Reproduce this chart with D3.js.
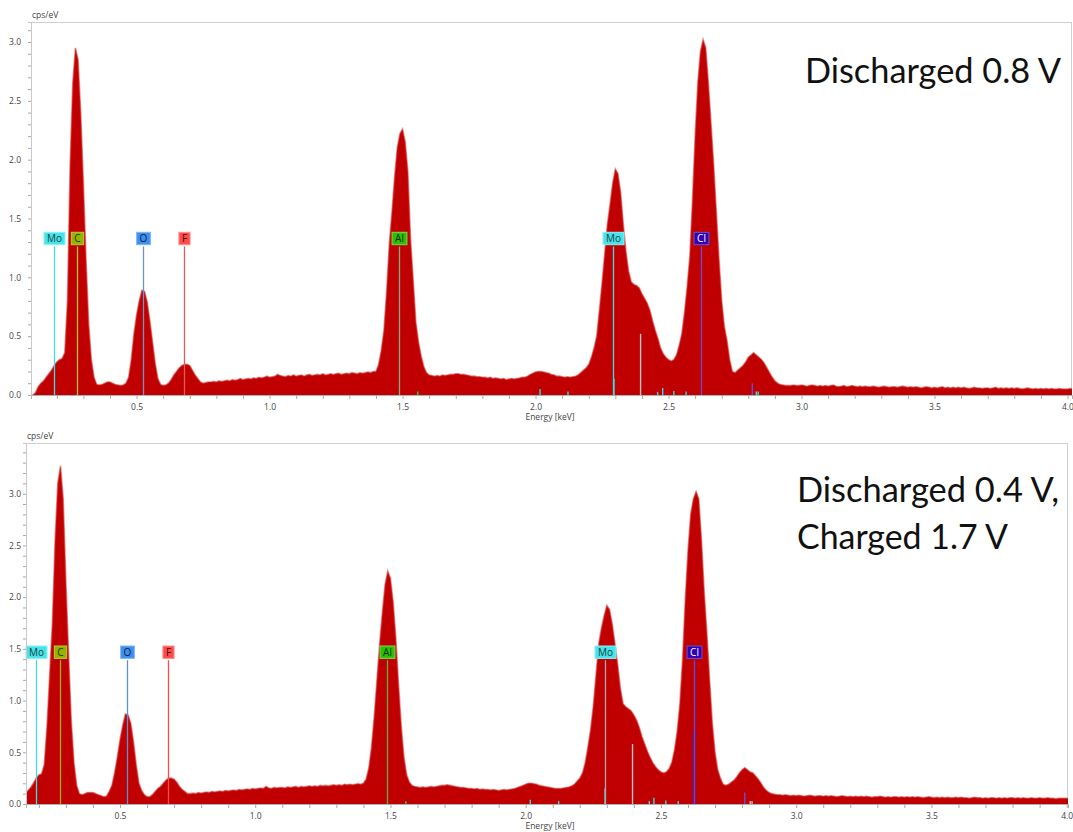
<!DOCTYPE html>
<html>
<head>
<meta charset="utf-8">
<script src="https://cdn.jsdelivr.net/npm/d3@7"></script>
<style>
  html, body { margin: 0; padding: 0; background: #ffffff; }
  svg { display: block; }
</style>
</head>
<body>
<script>
// ---------------- DATA ----------------
// Spectrum bins: 0.10 keV .. 4.02 keV, 0.01 keV per channel
const energyStartKeV = 0.10;
const channelWidthKeV = 0.01;

// Panel 1: Discharged 0.8 V (cps/eV)
const countsTop = [
  0, 0, 0.02, 0.07, 0.10, 0.12, 0.15, 0.18, 0.21, 0.25,
  0.28, 0.30, 0.31, 0.36, 0.80, 1.95, 2.65, 2.95, 2.85, 2.40,
  1.80, 1.15, 0.60, 0.30, 0.15, 0.09, 0.085, 0.09, 0.10, 0.11,
  0.11, 0.10, 0.09, 0.085, 0.08, 0.085, 0.10, 0.15, 0.30, 0.52,
  0.68, 0.80, 0.89, 0.88, 0.79, 0.63, 0.45, 0.27, 0.14, 0.09,
  0.08, 0.085, 0.10, 0.13, 0.17, 0.20, 0.23, 0.25, 0.26, 0.26,
  0.25, 0.21, 0.17, 0.14, 0.11, 0.10, 0.105, 0.11, 0.11, 0.115,
  0.11, 0.12, 0.115, 0.12, 0.125, 0.12, 0.13, 0.125, 0.13, 0.14,
  0.13, 0.135, 0.14, 0.135, 0.145, 0.14, 0.15, 0.145, 0.15, 0.16,
  0.15, 0.155, 0.16, 0.175, 0.165, 0.16, 0.155, 0.165, 0.16, 0.17,
  0.16, 0.165, 0.17, 0.16, 0.17, 0.175, 0.165, 0.17, 0.175, 0.17,
  0.18, 0.17, 0.175, 0.18, 0.175, 0.18, 0.185, 0.175, 0.18, 0.185,
  0.18, 0.19, 0.185, 0.18, 0.19, 0.185, 0.19, 0.195, 0.19, 0.20,
  0.20, 0.26, 0.38, 0.55, 0.88, 1.28, 1.55, 1.85, 2.10, 2.22,
  2.26, 2.15, 1.90, 1.33, 0.98, 0.62, 0.45, 0.33, 0.24, 0.19,
  0.17, 0.165, 0.16, 0.165, 0.16, 0.17, 0.165, 0.17, 0.175, 0.175,
  0.18, 0.18, 0.175, 0.175, 0.17, 0.165, 0.16, 0.16, 0.155, 0.155,
  0.15, 0.15, 0.145, 0.15, 0.14, 0.145, 0.14, 0.135, 0.14, 0.13,
  0.135, 0.14, 0.135, 0.14, 0.145, 0.15, 0.15, 0.16, 0.175, 0.185,
  0.195, 0.20, 0.20, 0.195, 0.19, 0.185, 0.175, 0.17, 0.16, 0.16,
  0.155, 0.15, 0.155, 0.15, 0.155, 0.16, 0.17, 0.19, 0.21, 0.23,
  0.26, 0.32, 0.40, 0.50, 0.72, 0.95, 1.20, 1.45, 1.62, 1.80,
  1.92, 1.88, 1.72, 1.45, 1.22, 1.05, 0.96, 0.94, 0.93, 0.91,
  0.86, 0.82, 0.78, 0.72, 0.63, 0.55, 0.48, 0.40, 0.35, 0.32,
  0.30, 0.29, 0.30, 0.34, 0.42, 0.52, 0.70, 0.92, 1.18, 1.65,
  2.20, 2.65, 2.92, 3.02, 2.95, 2.65, 2.30, 1.95, 1.55, 1.15,
  0.80, 0.58, 0.46, 0.30, 0.20, 0.19, 0.21, 0.23, 0.25, 0.28,
  0.32, 0.34, 0.36, 0.34, 0.32, 0.30, 0.27, 0.23, 0.19, 0.15,
  0.12, 0.10, 0.09, 0.085, 0.08, 0.08, 0.08, 0.085, 0.08, 0.08,
  0.085, 0.08, 0.075, 0.08, 0.085, 0.08, 0.075, 0.08, 0.075, 0.08,
  0.075, 0.08, 0.085, 0.075, 0.07, 0.075, 0.08, 0.07, 0.075, 0.08,
  0.075, 0.07, 0.075, 0.07, 0.075, 0.07, 0.07, 0.075, 0.07, 0.065,
  0.07, 0.075, 0.07, 0.065, 0.07, 0.07, 0.065, 0.07, 0.075, 0.07,
  0.065, 0.07, 0.065, 0.07, 0.065, 0.06, 0.065, 0.07, 0.065, 0.06,
  0.065, 0.06, 0.065, 0.07, 0.06, 0.065, 0.06, 0.065, 0.06, 0.065,
  0.06, 0.065, 0.06, 0.055, 0.06, 0.065, 0.06, 0.06, 0.055, 0.06,
  0.06, 0.055, 0.06, 0.065, 0.055, 0.06, 0.055, 0.06, 0.055, 0.06,
  0.055, 0.06, 0.055, 0.05, 0.055, 0.06, 0.055, 0.05, 0.055, 0.05,
  0.055, 0.05, 0.055, 0.05, 0.055, 0.05, 0.05, 0.055, 0.05, 0.05,
  0.05, 0.055, 0.05
];

// Panel 2: Discharged 0.4 V, Charged 1.7 V (cps/eV)
const countsBottom = [
  0.05, 0.06, 0.07, 0.08, 0.09, 0.10, 0.13, 0.16, 0.20, 0.25,
  0.28, 0.29, 0.38, 0.75, 1.25, 1.75, 2.55, 3.10, 3.27, 2.95,
  2.15, 1.45, 0.80, 0.40, 0.18, 0.10, 0.09, 0.10, 0.11, 0.11,
  0.11, 0.10, 0.09, 0.08, 0.07, 0.075, 0.12, 0.18, 0.30, 0.45,
  0.62, 0.76, 0.87, 0.86, 0.78, 0.60, 0.38, 0.20, 0.13, 0.09,
  0.07, 0.07, 0.09, 0.12, 0.15, 0.17, 0.20, 0.23, 0.25, 0.25,
  0.24, 0.21, 0.17, 0.14, 0.12, 0.10, 0.10, 0.105, 0.10, 0.11,
  0.105, 0.11, 0.115, 0.11, 0.12, 0.115, 0.12, 0.125, 0.12, 0.13,
  0.125, 0.13, 0.135, 0.13, 0.14, 0.135, 0.14, 0.145, 0.14, 0.15,
  0.145, 0.15, 0.155, 0.15, 0.17, 0.155, 0.15, 0.16, 0.155, 0.16,
  0.16, 0.155, 0.165, 0.16, 0.165, 0.17, 0.16, 0.17, 0.165, 0.17,
  0.175, 0.17, 0.175, 0.17, 0.18, 0.175, 0.18, 0.175, 0.18, 0.185,
  0.18, 0.185, 0.18, 0.19, 0.185, 0.19, 0.185, 0.19, 0.195, 0.19,
  0.20, 0.24, 0.35, 0.55, 0.85, 1.20, 1.55, 1.85, 2.12, 2.25,
  2.18, 1.95, 1.60, 1.15, 0.75, 0.45, 0.28, 0.21, 0.18, 0.17,
  0.165, 0.16, 0.165, 0.16, 0.165, 0.17, 0.165, 0.17, 0.175, 0.18,
  0.18, 0.185, 0.18, 0.175, 0.17, 0.165, 0.16, 0.16, 0.155, 0.15,
  0.15, 0.145, 0.15, 0.14, 0.145, 0.14, 0.14, 0.135, 0.14, 0.135,
  0.13, 0.135, 0.14, 0.135, 0.14, 0.145, 0.15, 0.16, 0.17, 0.18,
  0.19, 0.20, 0.20, 0.195, 0.19, 0.18, 0.175, 0.17, 0.165, 0.16,
  0.155, 0.15, 0.15, 0.15, 0.155, 0.16, 0.165, 0.175, 0.19, 0.22,
  0.25, 0.30, 0.40, 0.55, 0.72, 0.95, 1.25, 1.55, 1.70, 1.82,
  1.92, 1.88, 1.74, 1.55, 1.35, 1.12, 0.97, 0.94, 0.92, 0.90,
  0.86, 0.81, 0.74, 0.65, 0.58, 0.51, 0.45, 0.40, 0.36, 0.33,
  0.31, 0.30, 0.31, 0.34, 0.40, 0.52, 0.70, 0.97, 1.40, 1.98,
  2.45, 2.80, 2.95, 3.02, 2.95, 2.55, 2.05, 1.65, 1.20, 0.78,
  0.50, 0.33, 0.25, 0.19, 0.18, 0.19, 0.21, 0.23, 0.26, 0.30,
  0.33, 0.35, 0.33, 0.31, 0.30, 0.27, 0.24, 0.20, 0.16, 0.13,
  0.11, 0.10, 0.095, 0.09, 0.09, 0.085, 0.09, 0.085, 0.08, 0.085,
  0.08, 0.085, 0.08, 0.075, 0.08, 0.085, 0.08, 0.075, 0.08, 0.08,
  0.075, 0.08, 0.075, 0.08, 0.075, 0.07, 0.075, 0.08, 0.075, 0.07,
  0.075, 0.07, 0.075, 0.07, 0.075, 0.07, 0.075, 0.07, 0.065, 0.07,
  0.07, 0.075, 0.07, 0.065, 0.07, 0.065, 0.07, 0.07, 0.065, 0.07,
  0.065, 0.07, 0.065, 0.07, 0.065, 0.07, 0.065, 0.06, 0.065, 0.07,
  0.065, 0.06, 0.065, 0.06, 0.065, 0.06, 0.065, 0.06, 0.06, 0.065,
  0.06, 0.065, 0.06, 0.06, 0.055, 0.06, 0.065, 0.06, 0.06, 0.055,
  0.06, 0.055, 0.06, 0.06, 0.055, 0.06, 0.055, 0.06, 0.055, 0.06,
  0.06, 0.055, 0.06, 0.055, 0.06, 0.055, 0.055, 0.06, 0.055, 0.055,
  0.06, 0.055, 0.055, 0.06, 0.055, 0.055, 0.05, 0.055, 0.055, 0.055,
  0.055, 0.05, 0.055
];

// Element identification labels (keV)
const elementLabels   = ["Mo", "C", "O", "F", "Al", "Mo", "Cl"];
const elementEnergies = [0.19, 0.277, 0.525, 0.677, 1.486, 2.293, 2.622];

// Secondary (minor) element lines: energy (keV), height (cps/eV), element
const minorEnergiesTop = [1.557, 2.017, 2.122, 2.295, 2.395, 2.459, 2.478, 2.52, 2.566, 2.815, 2.83, 2.837];
const minorHeightsTop  = [0.03, 0.05, 0.03, 0.14, 0.52, 0.025, 0.06, 0.035, 0.03, 0.10, 0.03, 0.03];
const minorElementsTop = ["Al", "Mo", "Mo", "Mo", "Mo2", "Mo", "Mo", "Mo", "Mo", "Cl", "Mo", "Mo"];

const minorEnergiesBottom = [1.557, 2.017, 2.122, 2.293, 2.395, 2.457, 2.474, 2.518, 2.564, 2.622, 2.81, 2.83, 2.837];
const minorHeightsBottom  = [0.03, 0.04, 0.03, 0.15, 0.58, 0.03, 0.06, 0.035, 0.03, 0.70, 0.11, 0.03, 0.03];
const minorElementsBottom = ["Al", "Mo", "Mo", "Mo", "Mo2", "Mo", "Mo", "Mo", "Mo", "Cl2", "Cl", "Mo2", "Mo2"];

const panelTitles = [["Discharged 0.8 V"], ["Discharged 0.4 V,", "Charged 1.7 V"]];
const xTickLabels = ["0.5", "1.0", "1.5", "2.0", "2.5", "3.0", "3.5", "4.0"];
const yUnit = "cps/eV";
const xTitle = "Energy [keV]";

// ---------------- STYLES ----------------
const elementStyle = {
  Mo: { box: "#45e4ea", stroke: "#8ff2f5", text: "#1e3c40", line: "#3ddbe3" },
  C:  { box: "#94b400", stroke: "#b4cc40", text: "#2a3300", line: "#a8c640" },
  O:  { box: "#3d8ff0", stroke: "#80b8f8", text: "#10204a", line: "#6e93c4" },
  F:  { box: "#ff4a4a", stroke: "#ff9090", text: "#3a0d0d", line: "#e25a5a" },
  Al: { box: "#2fbf00", stroke: "#70dd50", text: "#0c3000", line: "#86a884" },
  Cl: { box: "#3200b4", stroke: "#6a50d8", text: "#ffffff", line: "#6a4cd6" }
};
const minorColor = { Al: "#33cc33", Mo: "#38d8e0", Mo2: "#b5c4c6", Cl: "#6a4cd6", Cl2: "#2020ff" };

const panels = [
  { counts: countsTop, title: panelTitles[0], xDomain: [0.103, 4.017], xRange: [31, 1072],
    yDomain: [0, 3.17], yRange: [395, 22], yMaxTick: 3.1, labelCenterY: 238.5, yLabelPad: 7,
    titleX: 805, titleY: [83], titleLen: [256],
    minorE: minorEnergiesTop, minorH: minorHeightsTop, minorEl: minorElementsTop,
    lineColors: null },
  { counts: countsBottom, title: panelTitles[1], xDomain: [0.1525, 4.005], xRange: [26, 1068],
    yDomain: [0, 3.49], yRange: [804, 443], yMaxTick: 3.4, labelCenterY: 652.2, yLabelPad: 2,
    titleX: 797, titleY: [502, 549], titleLen: [262, 211],
    minorE: minorEnergiesBottom, minorH: minorHeightsBottom, minorEl: minorElementsBottom,
    lineColors: { 5: "#a9a9a9", 6: "#5050f0", 4: "#60b040", 3: "#ff4a4a", 2: "#5a90d8", 1: "#9ab020" } }
];

// ---------------- DRAW ----------------
const svg = d3.select("body").append("svg").attr("width", 1073).attr("height", 832);
const fontAxis = "'Open Sans', 'DejaVu Sans', sans-serif";

panels.forEach((p, pi) => {
  const x = d3.scaleLinear().domain(p.xDomain).range(p.xRange);
  const y = d3.scaleLinear().domain(p.yDomain).range(p.yRange);
  const data = p.counts.map((v, i) => ({ e: energyStartKeV + i * channelWidthKeV, v }));
  const g = svg.append("g");
  const clipId = "clip" + pi;
  g.append("clipPath").attr("id", clipId).append("rect")
    .attr("x", p.xRange[0]).attr("y", p.yRange[1])
    .attr("width", p.xRange[1] - p.xRange[0]).attr("height", p.yRange[0] - p.yRange[1]);

  // frame
  g.append("rect").attr("x", p.xRange[0] + 0.5).attr("y", p.yRange[1] + 0.5)
    .attr("width", p.xRange[1] - p.xRange[0] - 1).attr("height", p.yRange[0] - p.yRange[1])
    .attr("fill", "none").attr("stroke", "#cfcfcf").attr("stroke-width", 1);

  const area = d3.area().x(d => x(d.e)).y0(y(0)).y1(d => y(d.v)).curve(d3.curveLinear);
  const line = d3.line().x(d => x(d.e)).y(d => y(d.v)).curve(d3.curveLinear);
  const plot = g.append("g").attr("clip-path", `url(#${clipId})`);
  plot.append("path").datum(data).attr("d", area).attr("fill", "#c00000");
  plot.append("path").datum(data).attr("d", line).attr("fill", "none")
    .attr("stroke", "#d42c2c").attr("stroke-width", 1.6).attr("stroke-opacity", 0.55);

  // minor element lines
  p.minorE.forEach((e, i) => {
    plot.append("line").attr("x1", x(e)).attr("x2", x(e))
      .attr("y1", y(0)).attr("y2", y(p.minorH[i]))
      .attr("stroke", minorColor[p.minorEl[i]]).attr("stroke-width", 1.4);
  });

  // element labels
  elementLabels.forEach((lab, i) => {
    const st = elementStyle[lab];
    const ex = Math.round(x(elementEnergies[i])) + 0.5;
    const lc = (p.lineColors && p.lineColors[i]) ? p.lineColors[i] : st.line;
    plot.append("line").attr("x1", ex).attr("x2", ex)
      .attr("y1", p.labelCenterY + 8).attr("y2", y(0))
      .attr("stroke", lc).attr("stroke-width", 1.3);
    const t = g.append("text").attr("x", ex).attr("y", p.labelCenterY + 3.6)
      .attr("text-anchor", "middle").attr("font-family", fontAxis)
      .attr("font-size", 10).attr("fill", st.text).text(lab);
    const w = t.node().getComputedTextLength();
    g.insert("rect", () => t.node())
      .attr("x", ex - w / 2 - 3).attr("y", p.labelCenterY - 6.2)
      .attr("width", w + 6).attr("height", 12.4)
      .attr("fill", st.box).attr("stroke", st.stroke).attr("stroke-width", 1);
  });

  // axes
  const xTicks = d3.range(2, 41).map(k => k / 10);
  const xAxis = d3.axisBottom(x).tickValues(xTicks).tickSize(4).tickPadding(5)
    .tickFormat(d => (Math.round(d * 10) % 5 === 0) ? xTickLabels[Math.round(d * 2) - 1] : "");
  const gx = g.append("g").attr("transform", `translate(0,${p.yRange[0]})`).call(xAxis);
  gx.select(".domain").attr("stroke", "#b0b0b0");
  gx.selectAll(".tick line").attr("stroke", "#a8a8a8");
  gx.selectAll("text").attr("font-family", fontAxis).attr("font-size", 8.5).attr("fill", "#444");

  const yTicks = d3.range(0, Math.round(p.yMaxTick * 10) + 1).map(k => k / 10);
  const yAxis = d3.axisLeft(y).tickValues(yTicks).tickSize(3).tickPadding(p.yLabelPad)
    .tickFormat(d => (Math.round(d * 10) % 5 === 0) ? d3.format(".1f")(d) : "");
  const gy = g.append("g").attr("transform", `translate(${p.xRange[0]},0)`).call(yAxis);
  gy.select(".domain").attr("stroke", "#c8c8c8");
  gy.selectAll(".tick line").attr("stroke", "#a8a8a8");
  gy.selectAll("text").attr("font-family", fontAxis).attr("font-size", 8.5).attr("fill", "#444");

  g.append("text").attr("x", p.xRange[0] + 1).attr("y", p.yRange[1] - 4)
    .attr("font-family", fontAxis).attr("font-size", 8.5).attr("fill", "#444").text(yUnit);
  g.append("text").attr("x", 550).attr("y", p.yRange[0] + 24.5).attr("text-anchor", "middle")
    .attr("font-family", fontAxis).attr("font-size", 8.5).attr("fill", "#444").text(xTitle);

  // panel title
  p.title.forEach((s, k) => {
    g.append("text").attr("x", p.titleX).attr("y", p.titleY[k])
      .attr("font-family", "Lato, 'Open Sans', sans-serif").attr("font-size", 34)
      .attr("fill", "#111").attr("textLength", p.titleLen[k])
      .attr("lengthAdjust", "spacingAndGlyphs").text(s);
  });
});
</script>
</body>
</html>
